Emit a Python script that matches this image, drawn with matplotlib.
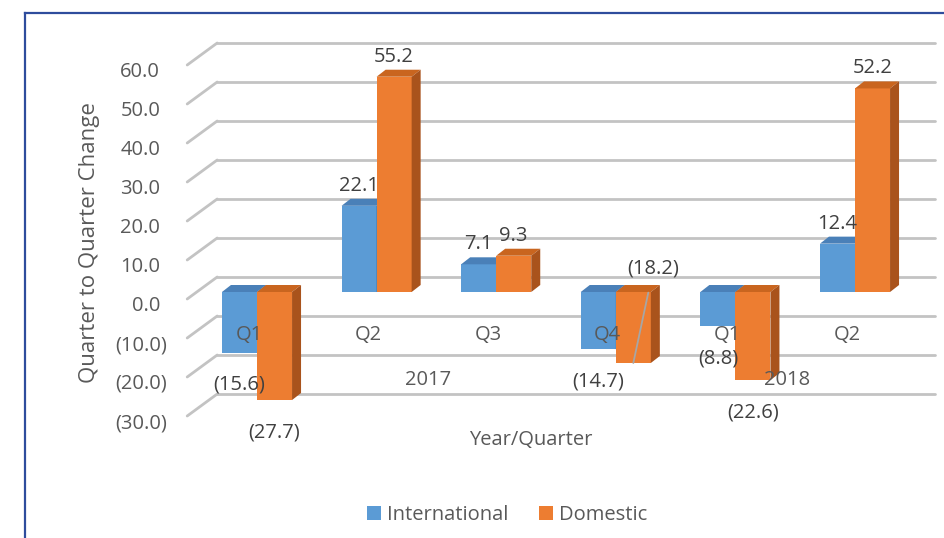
import matplotlib
matplotlib.use("Agg")
import matplotlib.pyplot as plt
from matplotlib.patches import Polygon, Patch
from matplotlib.lines import Line2D
import numpy as np

plt.rcParams['font.family'] = ['Open Sans', 'DejaVu Sans']

# data
quarters = ['Q1', 'Q2', 'Q3', 'Q4', 'Q1', 'Q2']
years = ['2017', '2018']
year_groups = [[0, 1, 2, 3], [4, 5]]
international = [-15.6, 22.1, 7.1, -14.7, -8.8, 12.4]
domestic = [-27.7, 55.2, 9.3, -18.2, -22.6, 52.2]
y_ticks = [60, 50, 40, 30, 20, 10, 0, -10, -20, -30]

BLUE = '#5B9BD5'
BLUE_TOP = '#4A80B8'
BLUE_SIDE = '#3F6F9F'
ORANGE = '#ED7D31'
ORANGE_TOP = '#C9651F'
ORANGE_SIDE = '#A9531C'
GRID = '#C3C3C3'
TXT = '#404040'
AX_TXT = '#595959'
FS = 14.5

W, H = 945, 538
fig = plt.figure(figsize=(W / 100, H / 100), dpi=100)
ax = fig.add_axes([0, 0, 1, 1])
ax.axis('off')

# linear scales: category step ~119.6 px, 3.9 px per unit, zero line at 292 px from top
step_px, unit_px, zero_px, first_px = 119.6, 3.9, 292, 257
ax.set_xlim(-first_px / step_px, (W - first_px) / step_px)
ax.set_ylim(-(H - zero_px) / unit_px, zero_px / unit_px)


def shift(dx, dy):
    # pixel offset -> data offset
    inv = ax.transData.inverted()
    x0, y0 = inv.transform((0, 0))
    x1, y1 = inv.transform((dx, dy))
    return x1 - x0, y1 - y0


x = np.arange(len(quarters))
bw = 0.293
n = len(quarters)

# walls: side-wall stubs and back-wall gridlines
fdx, fdy = shift(-10, -7)
bdx, bdy = shift(20, 15)
for v in y_ticks:
    ax.plot([-0.5 + fdx, -0.5 + bdx], [v + fdy, v + bdy], color=GRID, lw=2.0,
            solid_capstyle='round', zorder=1)
    ax.plot([-0.5 + bdx, n - 0.5 + bdx], [v + bdy, v + bdy], color=GRID, lw=2.0,
            solid_capstyle='round', zorder=1)

# tick labels on the front plane
for v in y_ticks:
    lab = f'{v:.1f}' if v >= 0 else f'({-v:.1f})'
    ox = -37 if v >= 0 else -30
    ax.annotate(lab, (-0.5, v), xytext=(ox, -14), textcoords='offset pixels',
                ha='right', va='center', fontsize=FS, color=AX_TXT)

# bars with depth
ddx, ddy = shift(9, 7)


def bar3d(xc, v, front, top, side, z):
    ax.bar(xc, v, width=bw, color=front, zorder=z, linewidth=0)
    x0, x1 = xc - bw / 2, xc + bw / 2
    yt = max(v, 0)
    yb = min(v, 0)
    ax.add_patch(Polygon([(x0, yt), (x1, yt), (x1 + ddx, yt + ddy), (x0 + ddx, yt + ddy)],
                         closed=True, facecolor=top, edgecolor='none', zorder=z))
    ax.add_patch(Polygon([(x1, yb), (x1, yt), (x1 + ddx, yt + ddy), (x1 + ddx, yb + ddy)],
                         closed=True, facecolor=side, edgecolor='none', zorder=z))


for i in range(n):
    bar3d(x[i] - bw / 2, international[i], BLUE, BLUE_TOP, BLUE_SIDE, 3)
    bar3d(x[i] + bw / 2, domestic[i], ORANGE, ORANGE_TOP, ORANGE_SIDE, 4)


def fmt(v):
    return f'{v:.1f}' if v >= 0 else f'({-v:.1f})'


# data labels
for series, off in ((international, -bw / 2), (domestic, bw / 2)):
    for i, v in enumerate(series):
        xc = x[i] + off
        if series is domestic and i == 3:
            ax.annotate(fmt(v), (xc, v), xytext=(20, 94), textcoords='offset pixels',
                        ha='center', va='center', fontsize=FS, color=TXT, zorder=6,
                        arrowprops=dict(arrowstyle='-', color='#A6A6A6', lw=1.3,
                                        shrinkA=8, shrinkB=0))
            continue
        dy = 20 if v >= 0 else -32
        ax.annotate(fmt(v), (xc, v), xytext=(0, dy), textcoords='offset pixels',
                    ha='center', va='center', fontsize=FS, color=TXT, zorder=6)

# category labels
for i, q in enumerate(quarters):
    ax.annotate(q, (x[i], 0), xytext=(-8, -43), textcoords='offset pixels',
                ha='center', va='center', fontsize=FS, color=AX_TXT, zorder=5)
for yr, grp in zip(years, year_groups):
    ax.annotate(yr, (np.mean(x[grp]), 0), xytext=(-8, -88), textcoords='offset pixels',
                ha='center', va='center', fontsize=FS, color=AX_TXT, zorder=5)

ax.annotate('Year/Quarter', ((n - 1) / 2, 0), xytext=(-25, -148), textcoords='offset pixels',
            ha='center', va='center', fontsize=14.5, color=AX_TXT)
fig.text(90 / W, 1 - 243 / H, 'Quarter to Quarter Change', rotation=90,
         ha='center', va='center', fontsize=16, color=AX_TXT)

handles = [Patch(facecolor=BLUE, label='International'),
           Patch(facecolor=ORANGE, label='Domestic')]
leg = fig.legend(handles=handles, loc='center', bbox_to_anchor=(507 / W, 1 - 515 / H),
                 ncol=2, frameon=False, handlelength=0.7, handleheight=0.7,
                 handletextpad=0.3, columnspacing=1.5, fontsize=14.5)
for t in leg.get_texts():
    t.set_color(AX_TXT)

# blue frame of the slide box
fig.add_artist(Line2D([25 / W, 1], [1 - 13 / H, 1 - 13 / H], color='#2E4C9C', lw=1.6,
                      transform=fig.transFigure))
fig.add_artist(Line2D([25 / W, 25 / W], [0, 1 - 13 / H], color='#2E4C9C', lw=1.6,
                      transform=fig.transFigure))

fig.savefig('out.png', dpi=100)
